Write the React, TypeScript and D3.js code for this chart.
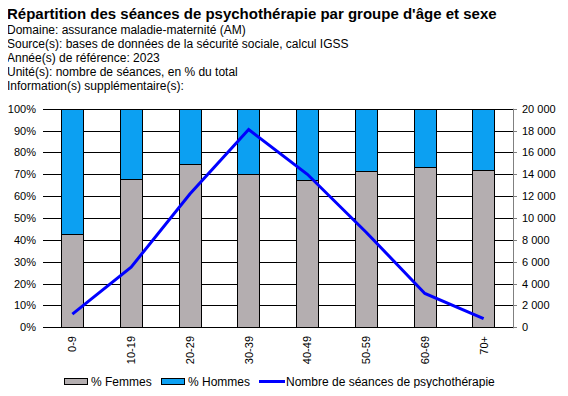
import { useEffect, useRef } from 'react';
import * as d3 from 'd3';

const ageGroups = ['0-9', '10-19', '20-29', '30-39', '40-49', '50-59', '60-69', '70+'];
const femmesPct = [42.5, 67.7, 74.6, 70.3, 67.2, 71.4, 73.3, 71.8];
const seances = [1200, 5500, 12200, 18100, 14000, 8700, 3100, 800];
const pctTicks = [0, 10, 20, 30, 40, 50, 60, 70, 80, 90, 100];
const countTicks = [0, 2000, 4000, 6000, 8000, 10000, 12000, 14000, 16000, 18000, 20000];
const headerLines = [
  'Domaine: assurance maladie-maternité (AM)',
  'Source(s): bases de données de la sécurité sociale, calcul IGSS',
  'Année(s) de référence: 2023',
  'Unité(s): nombre de séances, en % du total',
  'Information(s) supplémentaire(s):',
];

const GRAY = '#b4aeb0';
const BLUE = '#0ca0f2';
const LINE = '#0000ff';

export default function App() {
  const svgRef = useRef<SVGSVGElement>(null);

  useEffect(() => {
    const width = 568;
    const height = 396;
    const left = 43, right = 513, top = 108.7, bottom = 327.3;

    const svg = d3.select(svgRef.current)
      .attr('width', width)
      .attr('height', height)
      .style('font-family', '"Liberation Sans", Arial, sans-serif');
    svg.selectAll('*').remove();

    svg.append('rect').attr('width', width).attr('height', height).attr('fill', '#fff');

    svg.append('text')
      .attr('x', 7).attr('y', 19)
      .attr('font-size', 15).attr('font-weight', 'bold')
      .text('Répartition des séances de psychothérapie par groupe d\'âge et sexe');

    svg.selectAll('.hdr')
      .data(headerLines)
      .enter()
      .append('text')
      .attr('class', 'hdr')
      .attr('x', 7)
      .attr('y', (d, i) => 33.5 + i * 14)
      .attr('font-size', 12)
      .text(d => d);

    const x = d3.scaleBand().domain(ageGroups).range([left, right]).paddingInner(0.62).paddingOuter(0.31);
    const y = d3.scaleLinear().domain([0, 100]).range([bottom, top]);
    const y2 = d3.scaleLinear().domain([0, 20000]).range([bottom, top]);

    // gridlines
    svg.append('g')
      .selectAll('line')
      .data(pctTicks)
      .enter()
      .append('line')
      .attr('x1', left).attr('x2', right)
      .attr('y1', d => Math.round(y(d)) + 0.5).attr('y2', d => Math.round(y(d)) + 0.5)
      .attr('stroke', '#000').attr('stroke-width', 1);

    svg.append('g')
      .selectAll('text')
      .data(pctTicks)
      .enter()
      .append('text')
      .attr('x', 36)
      .attr('y', d => y(d) + 4)
      .attr('text-anchor', 'end')
      .attr('font-size', 11)
      .text(d => `${d}%`);

    // bars
    const bars = svg.append('g');
    ageGroups.forEach((g, i) => {
      const bx = Math.round(x(g)!) + 0.5;
      const bw = Math.round(x.bandwidth());
      bars.append('rect')
        .attr('x', bx).attr('y', Math.round(y(100)) + 0.5)
        .attr('width', bw).attr('height', Math.round(y(femmesPct[i])) - Math.round(y(100)))
        .attr('fill', BLUE).attr('stroke', '#000');
      bars.append('rect')
        .attr('x', bx).attr('y', Math.round(y(femmesPct[i])) + 0.5)
        .attr('width', bw).attr('height', Math.round(y(0)) - Math.round(y(femmesPct[i])))
        .attr('fill', GRAY).attr('stroke', '#000');
    });

    // right axis
    const ax = svg.append('g');
    ax.append('line')
      .attr('x1', right + 0.5).attr('x2', right + 0.5)
      .attr('y1', top).attr('y2', bottom + 1)
      .attr('stroke', '#808080');
    ax.selectAll('.tk')
      .data(countTicks)
      .enter()
      .append('line')
      .attr('x1', right).attr('x2', right + 4)
      .attr('y1', d => Math.round(y2(d)) + 0.5).attr('y2', d => Math.round(y2(d)) + 0.5)
      .attr('stroke', '#808080');
    ax.selectAll('text')
      .data(countTicks)
      .enter()
      .append('text')
      .attr('x', 522)
      .attr('y', d => y2(d) + 4)
      .attr('font-size', 11)
      .text(d => d3.format(',')(d).replace(/,/g, ' '));

    // x labels
    svg.append('g')
      .selectAll('text')
      .data(ageGroups)
      .enter()
      .append('text')
      .attr('transform', d => `translate(${x(d)! + x.bandwidth() / 2 + 4},336) rotate(-90)`)
      .attr('text-anchor', 'end')
      .attr('font-size', 11)
      .text(d => d);

    // line
    const line = d3.line<number>()
      .x((d, i) => x(ageGroups[i])! + x.bandwidth() / 2)
      .y(d => y2(d));
    svg.append('path')
      .datum(seances)
      .attr('d', line)
      .attr('fill', 'none')
      .attr('stroke', LINE)
      .attr('stroke-width', 3);

    // legend
    const lg = svg.append('g').attr('font-size', 12);
    lg.append('rect').attr('x', 64.5).attr('y', 378.5).attr('width', 23).attr('height', 6).attr('fill', GRAY).attr('stroke', '#000');
    lg.append('text').attr('x', 91).attr('y', 386).text('% Femmes');
    lg.append('rect').attr('x', 161.5).attr('y', 378.5).attr('width', 23).attr('height', 6).attr('fill', BLUE).attr('stroke', '#000');
    lg.append('text').attr('x', 188).attr('y', 386).text('% Hommes');
    lg.append('line').attr('x1', 259).attr('x2', 285).attr('y1', 381.5).attr('y2', 381.5).attr('stroke', LINE).attr('stroke-width', 3);
    lg.append('text').attr('x', 286).attr('y', 386).text('Nombre de séances de psychothérapie');
  }, []);

  return (
    <div style={{ margin: -8 }}>
      <svg ref={svgRef} style={{ display: 'block' }}></svg>
    </div>
  );
}
